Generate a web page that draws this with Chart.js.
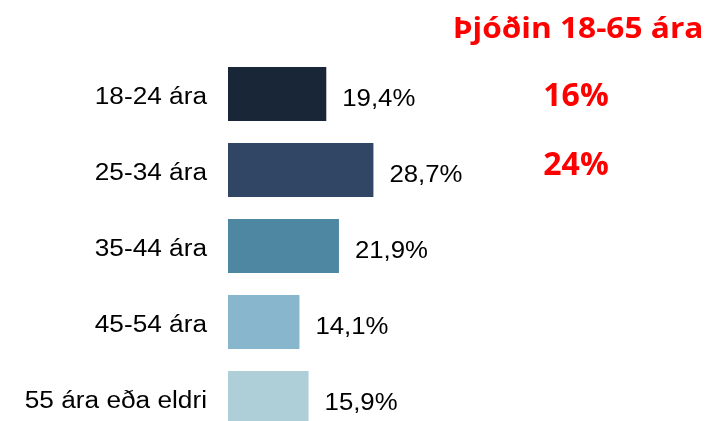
<!DOCTYPE html>
<html>
<head>
<meta charset="utf-8">
<script src="https://cdn.jsdelivr.net/npm/chart.js@4/dist/chart.umd.min.js"></script>
<style>
  html, body { margin: 0; padding: 0; background: #ffffff; overflow: hidden; }
  #wrap { position: relative; width: 713px; height: 440px; }
</style>
</head>
<body>
<div id="wrap"><canvas id="c"></canvas></div>
<script>
const categories = ["18-24 ára", "25-34 ára", "35-44 ára", "45-54 ára", "55 ára eða eldri"];
const values = [19.4, 28.7, 21.9, 14.1, 15.9];
const valueLabels = ["19,4%", "28,7%", "21,9%", "14,1%", "15,9%"];
const barColors = ["#182637", "#314565", "#4e87a1", "#88b6cc", "#aecfd8"];
const sideTitle = "Þjóðin 18-65 ára";
const sideValues = ["16%", "24%"];

function stretchedText(ctx, text, x, y, sx, align) {
  ctx.save();
  ctx.translate(x, y);
  ctx.scale(sx, 1);
  ctx.textAlign = align;
  ctx.fillText(text, 0, 0);
  ctx.restore();
}

const labelPlugin = {
  id: 'labels',
  afterDatasetsDraw(chart) {
    const ctx = chart.ctx;
    const meta = chart.getDatasetMeta(0);
    const yScale = chart.scales.y;
    ctx.save();
    ctx.fillStyle = '#000000';
    ctx.font = '23px "Liberation Sans", Arial, sans-serif';
    ctx.textBaseline = 'alphabetic';
    // value labels
    meta.data.forEach((bar, i) => {
      stretchedText(ctx, valueLabels[i], bar.x + 16, bar.y + 12, 1.12, 'left');
    });
    // category labels
    categories.forEach((c, i) => {
      const y = yScale.getPixelForValue(i);
      stretchedText(ctx, c, 207, y + 10, 1.14, 'right');
    });
    // red side annotations
    ctx.fillStyle = '#ff0000';
    ctx.font = 'bold 28px "Open Sans", sans-serif';
    stretchedText(ctx, sideTitle, 578, 38, 1.13, 'center');
    ctx.font = 'bold 32px "Open Sans", sans-serif';
    stretchedText(ctx, sideValues[0], 576, 106, 1.0, 'center');
    stretchedText(ctx, sideValues[1], 576, 175, 1.0, 'center');
    ctx.restore();
  }
};

new Chart(document.getElementById('c'), {
  type: 'bar',
  data: {
    labels: categories,
    datasets: [{
      data: values,
      backgroundColor: barColors,
      borderWidth: 0,
      barPercentage: 0.71,
      categoryPercentage: 1.0
    }]
  },
  options: {
    indexAxis: 'y',
    responsive: true,
    maintainAspectRatio: false,
    animation: false,
    layout: { padding: { left: 228, right: 29, top: 56, bottom: 4 } },
    plugins: { legend: { display: false }, tooltip: { enabled: false } },
    scales: {
      x: { display: false, min: 0, max: 90 },
      y: { display: false }
    }
  },
  plugins: [labelPlugin]
});
</script>
</body>
</html>
